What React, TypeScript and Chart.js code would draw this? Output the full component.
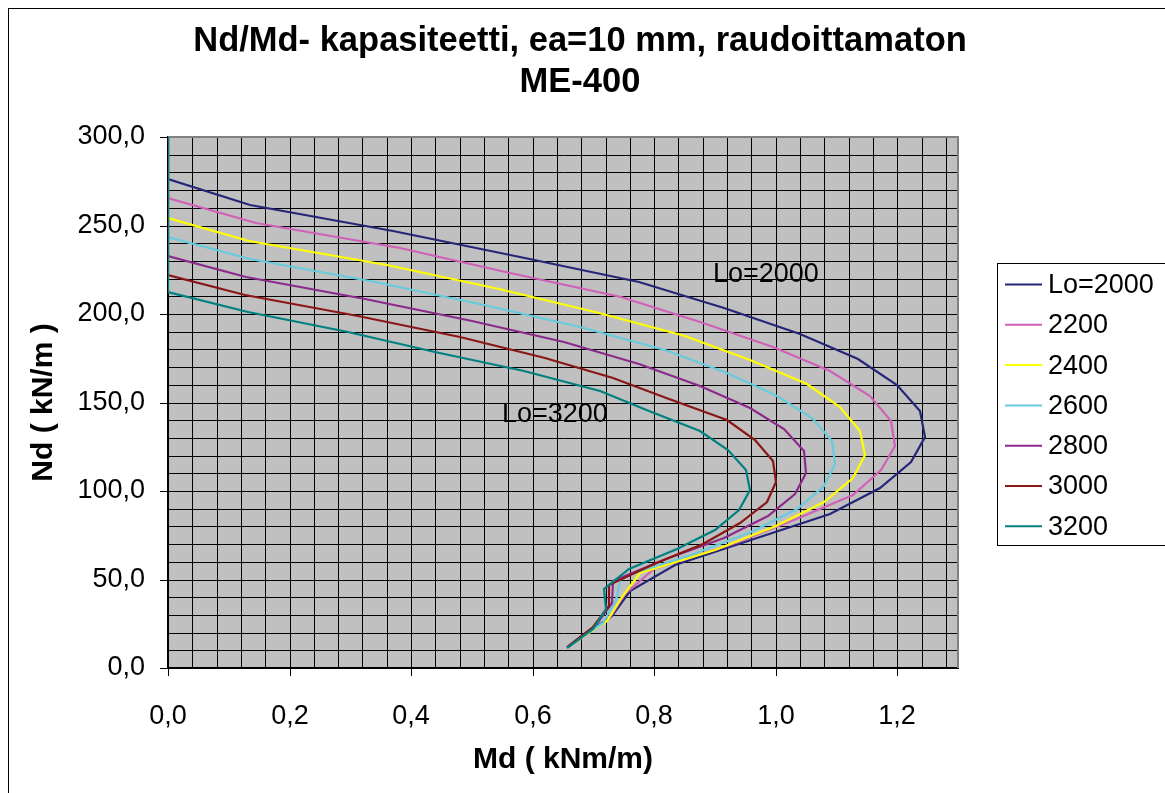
import React, { useEffect, useRef } from 'react';
import { Chart, registerables } from 'chart.js';

Chart.register(...registerables);

const FONT = '"Liberation Sans", Arial, Helvetica, sans-serif';

const TITLE_LINES = ['Nd/Md- kapasiteetti, ea=10 mm, raudoittamaton', 'ME-400'];
const X_TITLE = 'Md ( kNm/m)';
const Y_TITLE = 'Nd ( kN/m )';

const SERIES_LABELS = ['Lo=2000', '2200', '2400', '2600', '2800', '3000', '3200'];
const SERIES_COLORS = ['#262678', '#d060b8', '#ffff00', '#66ccdd', '#8c2a8c', '#8a1616', '#008080'];

// Md (kNm/m) and Nd (kN/m) values
const MD_2000 = [0, 0, 0.135, 0.37, 0.58, 0.775, 0.915, 1.04, 1.135, 1.2, 1.237, 1.245, 1.223, 1.172, 1.09, 0.965, 0.835, 0.76, 0.73, 0.67];
const ND_2000 = [300, 276, 261.5, 247.0, 232.4, 217.9, 203.4, 188.9, 174.3, 159.8, 145.3, 130.7, 116.2, 101.7, 87.2, 72.6, 58.1, 43.6, 29.1, 14.5];

const MD_2200 = [0, 0, 0.144, 0.382, 0.563, 0.745, 0.875, 0.996, 1.09, 1.156, 1.19, 1.196, 1.173, 1.128, 1.03, 0.93, 0.8, 0.752, 0.725, 0.668];
const ND_2200 = [300, 265.3, 251.3, 237.4, 223.4, 209.4, 195.5, 181.5, 167.6, 153.6, 139.6, 125.7, 111.7, 97.8, 83.8, 69.8, 55.9, 41.9, 27.9, 14.0];

const MD_2400 = [0, 0, 0.134, 0.36, 0.544, 0.71, 0.85, 0.958, 1.051, 1.106, 1.139, 1.147, 1.128, 1.079, 1.0, 0.9, 0.777, 0.747, 0.722, 0.665];
const ND_2400 = [300, 254.4, 241.0, 227.6, 214.2, 200.8, 187.4, 174.0, 160.7, 147.3, 133.9, 120.5, 107.1, 93.7, 80.3, 66.9, 53.6, 40.2, 26.8, 13.4];

const MD_2600 = [0, 0, 0.135, 0.34, 0.52, 0.678, 0.818, 0.92, 1.002, 1.06, 1.092, 1.098, 1.079, 1.035, 0.96, 0.86, 0.745, 0.738, 0.715, 0.662];
const ND_2600 = [300, 243.7, 230.9, 218.0, 205.2, 192.4, 179.6, 166.7, 153.9, 141.1, 128.3, 115.4, 102.6, 89.8, 76.9, 64.1, 51.3, 38.5, 25.6, 12.8];

const MD_2800 = [0, 0, 0.128, 0.324, 0.5, 0.651, 0.775, 0.876, 0.958, 1.013, 1.046, 1.05, 1.032, 0.988, 0.915, 0.82, 0.732, 0.73, 0.705, 0.66];
const ND_2800 = [300, 233.0, 220.7, 208.4, 196.2, 183.9, 171.6, 159.4, 147.1, 134.8, 122.6, 110.4, 98.1, 85.8, 73.6, 61.3, 49.1, 36.8, 24.5, 12.3];

const MD_3000 = [0, 0, 0.126, 0.312, 0.48, 0.62, 0.732, 0.825, 0.92, 0.966, 0.996, 1.001, 0.985, 0.942, 0.881, 0.8, 0.725, 0.725, 0.7, 0.657];
const ND_3000 = [300, 222.2, 210.5, 198.8, 187.1, 175.4, 163.7, 152.0, 140.3, 128.6, 116.9, 105.2, 93.6, 81.9, 70.2, 58.5, 46.8, 35.1, 23.4, 11.7];

const MD_3200 = [0, 0, 0.132, 0.296, 0.44, 0.585, 0.711, 0.792, 0.876, 0.922, 0.951, 0.957, 0.94, 0.9, 0.837, 0.758, 0.718, 0.72, 0.7, 0.656];
const ND_3200 = [300, 212.3, 201.1, 190.0, 178.8, 167.6, 156.4, 145.3, 134.1, 122.9, 111.7, 100.6, 89.4, 78.2, 67.0, 55.9, 44.7, 33.5, 22.3, 11.2];

const SERIES_MD = [MD_2000, MD_2200, MD_2400, MD_2600, MD_2800, MD_3000, MD_3200];
const SERIES_ND = [ND_2000, ND_2200, ND_2400, ND_2600, ND_2800, ND_3000, ND_3200];

// axis settings
const X_MIN = 0;
const X_MAX = 1.3;
const X_GRID_STEP = 0.04;
const X_LABEL_STEP = 0.2;
const Y_MIN = 0;
const Y_MAX = 300;
const Y_GRID_STEP = 10;
const Y_LABEL_STEP = 50;

// in-plot labels (data coordinates)
const NOTE_TEXTS = ['Lo=2000', 'Lo=3200'];
const NOTE_MD = [0.897, 0.549];
const NOTE_ND = [222.2, 143.1];

const fmt = (v: number) => v.toFixed(1).replace('.', ',');
const isMult = (v: number, step: number) => Math.abs(v / step - Math.round(v / step)) < 1e-6;

const decorPlugin = {
  id: 'decor',
  beforeDraw(chart: any) {
    const { ctx, chartArea: a } = chart;
    ctx.save();
    ctx.fillStyle = '#ffffff';
    ctx.fillRect(0, 0, chart.width, chart.height);
    ctx.fillStyle = '#c0c0c0';
    ctx.fillRect(a.left, a.top, a.right - a.left, a.bottom - a.top);
    ctx.fillStyle = '#000';
    ctx.font = `bold 34.5px ${FONT}`;
    ctx.textAlign = 'center';
    ctx.textBaseline = 'middle';
    TITLE_LINES.forEach((t, i) => ctx.fillText(t, 571, 32 + i * 41));
    ctx.restore();
  },
  beforeDatasetsDraw(chart: any) {
    const { ctx, chartArea: a } = chart;
    ctx.save();
    ctx.strokeStyle = '#808080';
    ctx.lineWidth = 2;
    ctx.beginPath();
    ctx.moveTo(a.left, a.top);
    ctx.lineTo(a.right, a.top);
    ctx.lineTo(a.right, a.bottom);
    ctx.stroke();
    ctx.restore();
  },
  afterDraw(chart: any) {
    const { ctx } = chart;
    const xs = chart.scales.x;
    const ys = chart.scales.y;
    ctx.save();
    ctx.fillStyle = '#000';
    ctx.font = `27px ${FONT}`;
    ctx.textAlign = 'left';
    ctx.textBaseline = 'middle';
    NOTE_TEXTS.forEach((t, i) => {
      ctx.fillText(t, xs.getPixelForValue(NOTE_MD[i]), ys.getPixelForValue(NOTE_ND[i]));
    });
    // legend
    const lx = 988, ly = 254, lw = 200, lh = 282;
    ctx.fillStyle = '#fff';
    ctx.fillRect(lx, ly, lw, lh);
    ctx.strokeStyle = '#000';
    ctx.lineWidth = 1;
    ctx.strokeRect(lx + 0.5, ly + 0.5, lw, lh);
    chart.data.datasets.forEach((ds: any, i: number) => {
      const cy = 275.5 + i * 40.3;
      ctx.strokeStyle = ds.borderColor;
      ctx.lineWidth = 2;
      ctx.beginPath();
      ctx.moveTo(996, cy);
      ctx.lineTo(1033, cy);
      ctx.stroke();
      ctx.fillStyle = '#000';
      ctx.font = `27px ${FONT}`;
      ctx.textAlign = 'left';
      ctx.textBaseline = 'middle';
      ctx.fillText(ds.label, 1039, cy + 1);
    });
    ctx.restore();
  },
};

export default function App() {
  const ref = useRef<HTMLCanvasElement | null>(null);

  useEffect(() => {
    if (!ref.current) return;
    const n = SERIES_LABELS.length;
    const datasets = SERIES_LABELS.map((label, i) => ({
      label,
      data: SERIES_MD[i].map((m, j) => ({ x: m, y: SERIES_ND[i][j] })),
      borderColor: SERIES_COLORS[i],
      backgroundColor: SERIES_COLORS[i],
      borderWidth: 2.2,
      showLine: true,
      pointRadius: 0,
      tension: 0,
      fill: false,
      order: n - 1 - i,
    }));

    const chart = new Chart(ref.current, {
      type: 'scatter',
      data: { datasets },
      plugins: [decorPlugin],
      options: {
        responsive: false,
        animation: false,
        devicePixelRatio: 1,
        events: [],
        layout: { padding: { top: 128, right: 207, left: 0, bottom: 0 } },
        plugins: {
          legend: { display: false },
          title: { display: false },
          tooltip: { enabled: false },
        },
        scales: {
          x: {
            type: 'linear',
            min: X_MIN,
            max: X_MAX,
            alignToPixels: true,
            afterBuildTicks: (s: any) => {
              const t = [];
              for (let v = X_MIN; v < X_MAX - 1e-9; v += X_GRID_STEP) t.push({ value: Math.round(v * 100) / 100 });
              s.ticks = t;
            },
            afterFit: (s: any) => {
              s.height = 125;
            },
            ticks: {
              autoSkip: false,
              maxRotation: 0,
              minRotation: 0,
              padding: 24,
              color: '#000',
              font: { family: FONT, size: 27 },
              callback: (v: any) => (isMult(Number(v), X_LABEL_STEP) ? fmt(Number(v)) : ''),
            },
            grid: {
              color: '#000',
              lineWidth: 1,
              tickLength: 8,
              tickColor: (c: any) => (c.tick && isMult(c.tick.value, X_LABEL_STEP) ? '#000' : 'rgba(0,0,0,0)'),
            },
            border: { display: true, color: '#000', width: 2 },
            title: {
              display: true,
              text: X_TITLE,
              color: '#000',
              font: { family: FONT, size: 30, weight: 'bold' },
              padding: { top: 0, bottom: 15 },
            },
          },
          y: {
            type: 'linear',
            min: Y_MIN,
            max: Y_MAX,
            alignToPixels: true,
            afterFit: (s: any) => {
              s.width = 159;
            },
            ticks: {
              stepSize: Y_GRID_STEP,
              autoSkip: false,
              padding: 15,
              color: '#000',
              font: { family: FONT, size: 27 },
              callback: (v: any) => (isMult(Number(v), Y_LABEL_STEP) ? fmt(Number(v)) : ''),
            },
            grid: {
              color: '#000',
              lineWidth: 1,
              tickLength: 8,
              tickColor: (c: any) => (c.tick && isMult(c.tick.value, Y_LABEL_STEP) ? '#000' : 'rgba(0,0,0,0)'),
            },
            border: { display: true, color: '#000', width: 2 },
            title: {
              display: true,
              text: Y_TITLE,
              color: '#000',
              font: { family: FONT, size: 30, weight: 'bold' },
              padding: { top: 17, bottom: 0 },
            },
          },
        },
      },
    } as any);
    return () => chart.destroy();
  }, []);

  return (
    <div
      style={{
        position: 'fixed',
        left: 8,
        top: 8,
        width: 1157,
        height: 785,
        borderLeft: '1px solid #000',
        borderTop: '1px solid #000',
        boxSizing: 'border-box',
        overflow: 'hidden',
        background: '#fff',
      }}
    >
      <canvas ref={ref} width={1156} height={784} style={{ display: 'block', width: 1156, height: 784 }} />
    </div>
  );
}
